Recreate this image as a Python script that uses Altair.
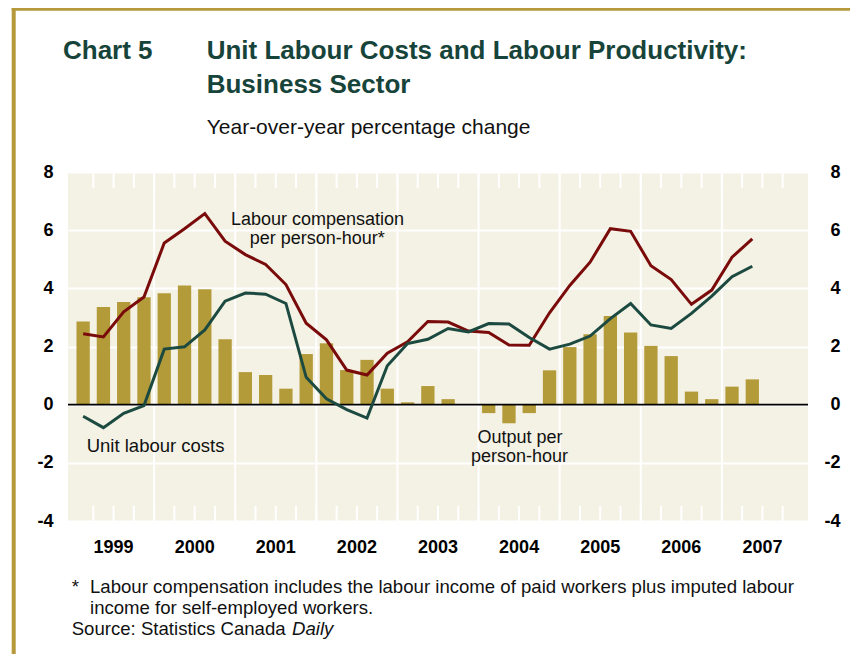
import altair as alt
import pandas as pd

# ---------------- data ----------------
years = [1999, 2000, 2001, 2002, 2003, 2004, 2005, 2006, 2007]
quarters = [f"{y} Q{q}" for y in years for q in (1, 2, 3, 4)][:34]

output_per_hour = [2.86, 3.36, 3.53, 3.69, 3.83, 4.10, 3.97, 2.25, 1.12, 1.02,
                   0.55, 1.74, 2.11, 1.19, 1.54, 0.55, 0.08, 0.64, 0.19, 0.00,
                   -0.29, -0.64, -0.29, 1.18, 1.98, 2.42, 3.05, 2.48, 2.02, 1.67,
                   0.45, 0.19, 0.62, 0.87]
labour_comp = [2.44, 2.33, 3.19, 3.70, 5.56, 6.05, 6.57, 5.62, 5.16, 4.82,
               4.13, 2.80, 2.23, 1.19, 1.02, 1.77, 2.16, 2.86, 2.84, 2.53,
               2.48, 2.05, 2.04, 3.16, 4.10, 4.90, 6.05, 5.96, 4.78, 4.30,
               3.45, 3.94, 5.07, 5.70]
unit_labour_costs = [-0.40, -0.79, -0.30, -0.03, 1.91, 1.99, 2.57, 3.56, 3.84, 3.80,
                     3.48, 0.94, 0.20, -0.17, -0.46, 1.34, 2.10, 2.25, 2.62, 2.50,
                     2.79, 2.77, 2.31, 1.91, 2.08, 2.36, 2.96, 3.48, 2.74, 2.62,
                     3.14, 3.73, 4.40, 4.76]
y_ticks = [-4, -2, 0, 2, 4, 6, 8]

series_names = ["Labour compensation", "Unit labour costs"]
series_colors = ["#7a0b0b", "#1c4a40"]

# ---------------- tables ----------------
n = len(quarters)
df = pd.DataFrame({
    "quarter": quarters,
    "pos": [i + 0.5 for i in range(n)],
    "output": output_per_hour,
})
lines_df = pd.concat([
    pd.DataFrame({"pos": df["pos"], "value": labour_comp, "series": series_names[0]}),
    pd.DataFrame({"pos": df["pos"], "value": unit_labour_costs, "series": series_names[1]}),
])
years_df = pd.DataFrame({"year": [str(y) for y in years],
                         "mid": [4 * k + 2 for k in range(len(years))]})
year_bounds = pd.DataFrame({"b": [4 * k for k in range(1, len(years))]})
quarter_bounds = pd.DataFrame({"b": list(range(1, 4 * len(years)))})
zero_df = pd.DataFrame({"zero": [0]})
one = pd.DataFrame({"a": [0]})

FONT = "Liberation Sans"
BAR = "#b49b3a"
BG = "#f4f1e5"
TITLE_C = "#17443a"
BORDER = "#b5993a"
PLOT_H = 349

xscale = alt.Scale(domain=[0, 4 * len(years)], nice=False, zero=False)
yscale = alt.Scale(domain=[y_ticks[0], y_ticks[-1]], nice=False, zero=False)

left_axis = alt.Axis(values=y_ticks, orient="left", domain=False, ticks=False, tickSize=0,
                     grid=True, gridColor="white", gridWidth=2, gridOpacity=1, title=None,
                     labelExpr="'' + datum.value",
                     labelFont=FONT, labelFontSize=18, labelFontWeight="bold",
                     labelColor="black", labelPadding=15)
right_axis = alt.Axis(values=y_ticks, orient="right", domain=False, ticks=False, tickSize=0,
                      grid=False, title=None, labelAlign="right",
                      labelExpr="'' + datum.value",
                      labelFont=FONT, labelFontSize=18, labelFontWeight="bold",
                      labelColor="black", labelPadding=32)

# year boundary lines
year_rules = alt.Chart(year_bounds).mark_rule(color="white", strokeWidth=2).encode(
    x=alt.X("b:Q", scale=xscale, axis=None))

# quarter ticks (top and bottom)
qt_top = alt.Chart(quarter_bounds).mark_rule(color="white", strokeWidth=2).encode(
    x=alt.X("b:Q", scale=xscale, axis=None),
    y=alt.Y("top:Q", scale=yscale, axis=None), y2="top2:Q"
).transform_calculate(top="8", top2="7.45")
qt_bot = alt.Chart(quarter_bounds).mark_rule(color="white", strokeWidth=2).encode(
    x=alt.X("b:Q", scale=xscale, axis=None),
    y=alt.Y("bot:Q", scale=yscale, axis=None), y2="bot2:Q"
).transform_calculate(bot="-4", bot2="-3.48")

bars = alt.Chart(df).mark_bar(width=13.3, color=BAR).encode(
    x=alt.X("pos:Q", scale=xscale, axis=None),
    y=alt.Y("output:Q", scale=yscale, axis=left_axis),
    y2=alt.datum(0),
)

zero = alt.Chart(zero_df).mark_rule(color="black", strokeWidth=1.6).encode(
    y=alt.Y("zero:Q", scale=yscale, axis=right_axis))

lines = alt.Chart(lines_df).mark_line(strokeWidth=3, strokeJoin="miter").encode(
    x=alt.X("pos:Q", scale=xscale, axis=None),
    y=alt.Y("value:Q", scale=yscale, axis=None),
    color=alt.Color("series:N", scale=alt.Scale(domain=series_names, range=series_colors), legend=None),
)

year_labels = alt.Chart(years_df).mark_text(
    font=FONT, fontSize=18, fontWeight="bold", color="black",
    align="center", baseline="alphabetic"
).encode(
    x=alt.X("mid:Q", scale=xscale, axis=None),
    y=alt.value(PLOT_H + 32),
    text="year:N",
)


def txt(s, x, y, size=17.5, weight="normal", color="#111111", align="left", style="normal"):
    return alt.Chart(one).mark_text(
        text=s, font=FONT, fontSize=size, fontWeight=weight, color=color,
        align=align, baseline="alphabetic", fontStyle=style
    ).encode(x=alt.value(x), y=alt.value(y))


texts = [
    txt("Chart 5", -5, -112.7, 26, "bold", TITLE_C),
    txt("Unit Labour Costs and Labour Productivity:", 138.7, -112.7, 26, "bold", TITLE_C),
    txt("Business Sector", 138.7, -78.7, 26, "bold", TITLE_C),
    txt("Year-over-year percentage change", 138.7, -38, 21),
    txt("Labour compensation", 249.5, 53, 18, align="center"),
    txt("per person-hour*", 249.3, 72, 18, align="center"),
    txt("Unit labour costs", 18.7, 280, 18.5),
    txt("Output per", 452, 271, 18, align="center"),
    txt("person-hour", 451.5, 290, 18, align="center"),
    txt("*", 3.7, 421.3, 18.6),
    txt("Labour compensation includes the labour income of paid workers plus imputed labour", 22, 421.3, 18.6),
    txt("income for self-employed workers.", 22, 442, 18.6),
    txt("Source: Statistics Canada", 3.7, 463, 18.6),
    txt("Daily", 224, 463, 18.6, style="italic"),
]

border_left = alt.Chart(one).mark_rule(color=BORDER, strokeWidth=4).encode(
    x=alt.value(-54.3), y=alt.value(-165), y2=alt.value(490))
border_top = alt.Chart(one).mark_rule(color=BORDER, strokeWidth=4).encode(
    x=alt.value(-56.3), x2=alt.value(790), y=alt.value(-163.3))

chart = alt.layer(
    year_rules, qt_top, qt_bot, bars, zero, lines, year_labels, *texts, border_left, border_top
).resolve_axis(y="independent").properties(
    width=740, height=PLOT_H,
    autosize=alt.AutoSizeParams(type="none"),
    padding={"left": 60, "top": 164, "right": 42, "bottom": 133},
    background="white",
).configure_view(fill=BG, strokeWidth=0)

chart.save("out.html", embed_options={"renderer": "svg", "actions": False})
